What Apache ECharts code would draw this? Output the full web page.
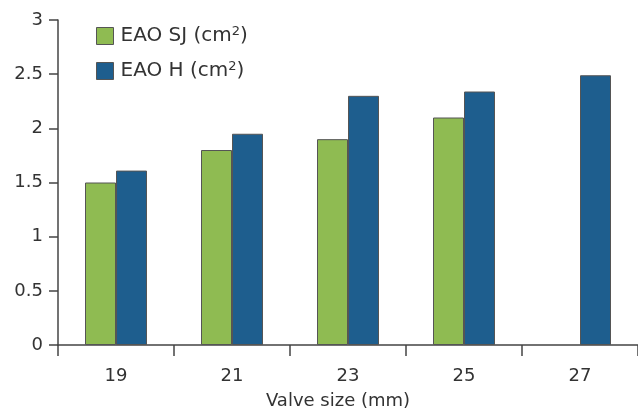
<!DOCTYPE html>
<html>
<head>
<meta charset="utf-8">
<script src="https://cdn.jsdelivr.net/npm/echarts@6/dist/echarts.min.js"></script>
<style>html,body{margin:0;padding:0;background:#fff;}#c{width:638px;height:417px;}</style>
</head>
<body>
<div id="c"></div>
<script>
var categories = ['19', '21', '23', '25', '27'];
var eaoSJ = [1.5, 1.8, 1.9, 2.1, null];
var eaoH = [1.61, 1.95, 2.3, 2.34, 2.49];
var yTicks = [0, 0.5, 1, 1.5, 2, 2.5, 3];

var font = '"DejaVu Sans", sans-serif';
var chart = echarts.init(document.getElementById('c'));
chart.setOption({
  animation: false,
  grid: { left: 58, right: 0, top: 20, bottom: 72, containLabel: false },
  legend: {
    orient: 'vertical', left: 91, top: 20, itemGap: 14,
    itemWidth: 17, itemHeight: 17,
    icon: 'rect',
    data: ['EAO SJ', 'EAO H'],
    formatter: function (n) { return n + ' (cm{sup|2})'; },
    itemStyle: { borderColor: '#555', borderWidth: 1 },
    textStyle: {
      fontFamily: font, fontSize: 20, color: '#333', padding: [0, 0, 0, 2],
      rich: { sup: { fontSize: 13, verticalAlign: 'top', padding: [0, 0, 9, 0], fontFamily: font, color: '#333' } }
    }
  },
  xAxis: {
    type: 'category', data: categories,
    name: 'Valve size (mm)', nameLocation: 'middle', nameGap: 47,
    nameTextStyle: { fontFamily: font, fontSize: 18, color: '#333', padding: [0, 20, 0, 0] },
    axisLine: { lineStyle: { color: '#444', width: 1.5 } },
    axisTick: { show: true, length: 11, lineStyle: { color: '#444', width: 1.5 }, alignWithLabel: false },
    axisLabel: { fontFamily: font, fontSize: 18, color: '#333', margin: 22 }
  },
  yAxis: {
    type: 'value', min: 0, max: 3, interval: 0.5,
    axisLine: { show: true, lineStyle: { color: '#444', width: 1.5 } },
    axisTick: { show: true, length: 9, lineStyle: { color: '#444', width: 1.5 } },
    splitLine: { show: false },
    axisLabel: {
      fontFamily: font, fontSize: 18, color: '#333', margin: 15,
      formatter: function (v) { return yTicks.indexOf(v) >= 0 ? String(v) : ''; }
    }
  },
  series: [
    { name: 'EAO SJ', type: 'bar', data: eaoSJ, barWidth: 31, barGap: '0%',
      itemStyle: { color: '#8fbb52', borderColor: '#555', borderWidth: 1 } },
    { name: 'EAO H', type: 'bar', data: eaoH, barWidth: 31, barGap: '0%',
      itemStyle: { color: '#1e5e8e', borderColor: '#555', borderWidth: 1 } }
  ]
});
</script>
</body>
</html>
